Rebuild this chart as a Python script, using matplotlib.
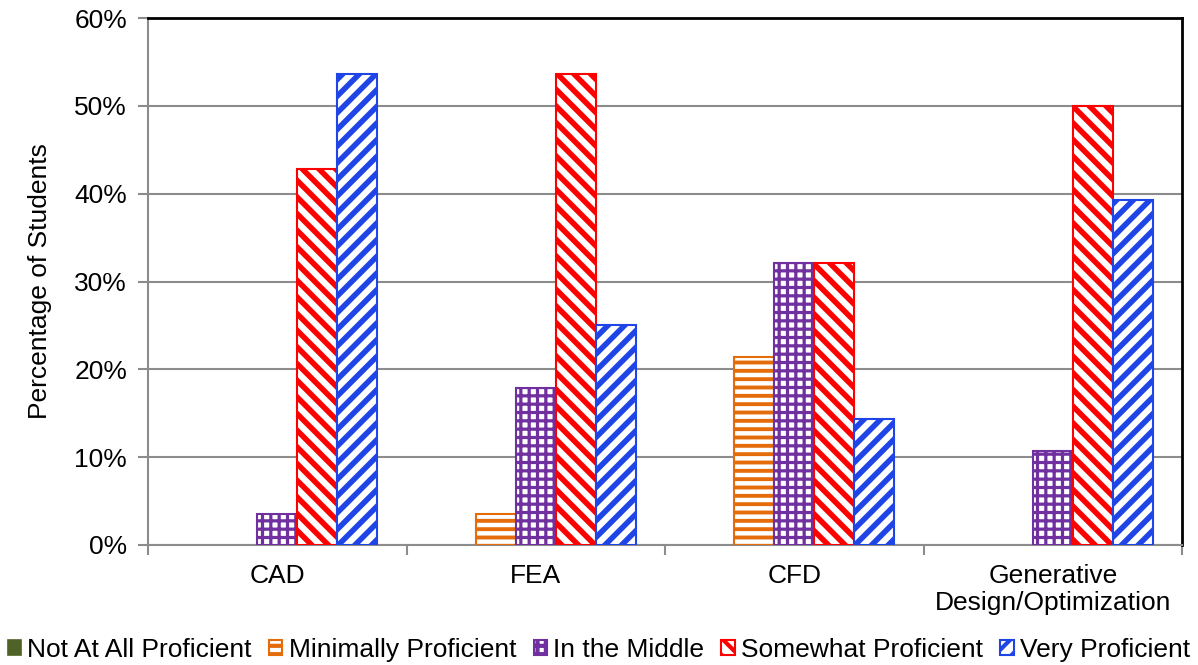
import matplotlib
matplotlib.use("Agg")
import matplotlib.pyplot as plt
from matplotlib.patches import Patch
import numpy as np

plt.rcParams['font.family'] = ['Liberation Sans', 'DejaVu Sans']
plt.rcParams['font.size'] = 19
plt.rcParams['hatch.linewidth'] = 3.0

categories = ["CAD", "FEA", "CFD", "Generative\nDesign/Optimization"]
levels = ["Not At All Proficient", "Minimally Proficient", "In the Middle",
          "Somewhat Proficient", "Very Proficient"]
not_at_all = [0.0, 0.0, 0.0, 0.0]
minimally = [0.0, 3.57, 21.43, 0.0]
in_middle = [3.57, 17.86, 32.14, 10.71]
somewhat = [42.86, 53.57, 32.14, 50.00]
very = [53.57, 25.00, 14.29, 39.29]

series = [not_at_all, minimally, in_middle, somewhat, very]
colors = ["#4F6228", "#E46C0A", "#7030A0", "#FF0000", "#1F45E6"]
hatches = [None, "--", "++", "\\\\", "//"]
hatch_lw = [1.0, 2.8, 2.3, 4.0, 4.0]

fig = plt.figure(figsize=(11.98, 6.65), dpi=100)
ax = fig.add_axes([148 / 1198, 1 - 545 / 665, (1182 - 148) / 1198, (545 - 18) / 665])

x = np.arange(len(categories))
width = 0.155
offsets = (np.arange(len(series)) - 2) * width

handles = []
for vals, col, hat, hlw, off, lab in zip(series, colors, hatches, hatch_lw, offsets, levels):
    if hat is None:
        bars = ax.bar(x + off, vals, width, color=col, edgecolor=col,
                      linewidth=1.2, zorder=3)
        handles.append(Patch(facecolor=col, edgecolor=col, linewidth=1.2))
    else:
        bars = ax.bar(x + off, vals, width, facecolor="white", edgecolor=col,
                      hatch=hat, linewidth=1.5, zorder=3)
        handles.append(Patch(facecolor="white", edgecolor=col, hatch=hat, linewidth=1.5))
    for b, v in zip(bars, vals):
        if hasattr(b, "set_hatch_linewidth"):
            b.set_hatch_linewidth(hlw)
        if v == 0:
            b.set_visible(False)

ax.set_xlim(-0.5, 3.5)
ax.set_ylim(0, 60)
ax.set_yticks(np.arange(0, 61, 10))
ax.set_yticklabels([f"{v}%" for v in range(0, 61, 10)])
ax.yaxis.grid(True, color="#8C8C8C", linewidth=1.5, zorder=0)
ax.set_axisbelow(True)

# group boundaries as major ticks, names as minor labels
ax.set_xticks(np.arange(-0.5, 4.0, 1.0))
ax.set_xticklabels([])
ax.set_xticks(x, minor=True)
ax.set_xticklabels(categories, minor=True, linespacing=1.15)
ax.tick_params(axis="x", which="minor", length=0, pad=14)
ax.tick_params(axis="x", which="major", length=7, width=1.5, color="#8C8C8C")
ax.tick_params(axis="y", length=7, width=1.5, color="#8C8C8C", pad=8)

for side in ["top", "right"]:
    ax.spines[side].set_color("black")
    ax.spines[side].set_linewidth(2)
for side in ["left", "bottom"]:
    ax.spines[side].set_color("#8C8C8C")
    ax.spines[side].set_linewidth(1.5)

ax.set_ylabel("Percentage of Students", labelpad=16)

fig.legend(handles=handles, labels=levels, loc="center",
           bbox_to_anchor=(0.5, 1 - 650 / 665), ncol=5, frameon=False,
           handlelength=0.5, handleheight=0.5, handletextpad=0.25,
           columnspacing=0.65, borderpad=0, borderaxespad=0)

fig.savefig("out.png", dpi=100)
